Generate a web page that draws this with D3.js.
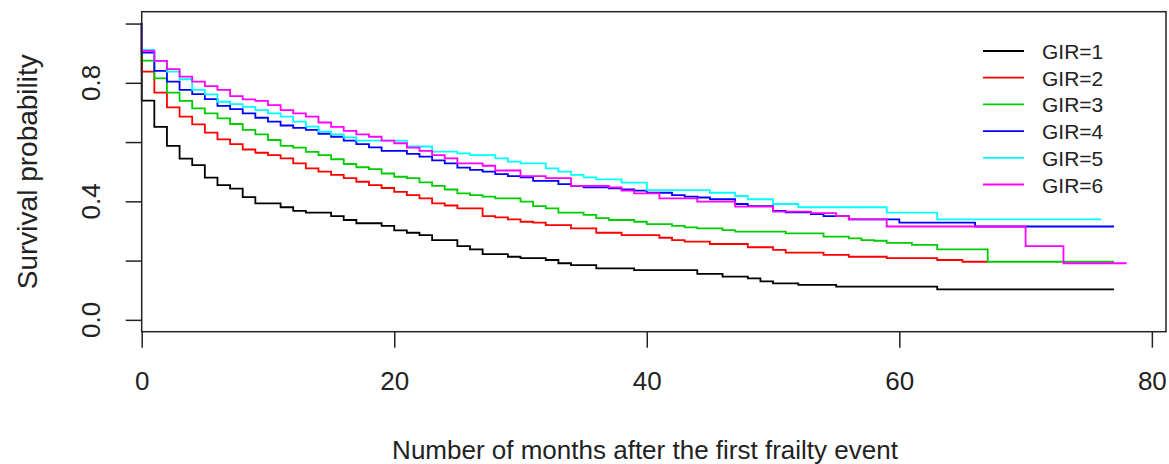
<!DOCTYPE html>
<html>
<head>
<meta charset="utf-8">
<script src="https://cdn.jsdelivr.net/npm/d3@7"></script>
<style>
  body { margin: 0; background: #fff; }
  svg { display: block; font-family: "Liberation Sans", Arial, sans-serif; }
</style>
</head>
<body>
<svg id="chart" width="1169" height="464"></svg>
<script>
// Kaplan-Meier steps per GIR group: [month, survival]
var gir1 = [[0,1],[0,0.740],[1,0.651],[2,0.587],[3,0.544],[4,0.522],[5,0.480],[6,0.455],[7,0.443],[8,0.414],[9,0.393],
  [11,0.380],[12,0.368],[13,0.362],[15,0.350],[16,0.337],[17,0.326],[19,0.317],[20,0.302],[21,0.294],[22,0.286],[23,0.269],
  [25,0.249],[26,0.238],[27,0.222],[29,0.213],[30,0.208],[32,0.202],[33,0.191],[34,0.185],[36,0.174],[39,0.168],[44,0.155],
  [46,0.146],[48,0.140],[49,0.130],[50,0.123],[52,0.118],[55,0.112],[63,0.103]];
var gir2 = [[0,1],[0,0.838],[1,0.767],[2,0.717],[3,0.686],[4,0.660],[5,0.632],[6,0.609],[7,0.593],[8,0.575],[9,0.564],
  [10,0.556],[11,0.545],[12,0.528],[13,0.511],[14,0.500],[15,0.489],[16,0.478],[17,0.466],[18,0.455],[19,0.445],[20,0.432],
  [21,0.421],[22,0.410],[23,0.393],[24,0.386],[25,0.376],[27,0.350],[28,0.346],[29,0.339],[30,0.331],[31,0.328],[32,0.320],
  [34,0.309],[36,0.294],[38,0.286],[41,0.277],[42,0.269],[43,0.264],[45,0.256],[48,0.245],[50,0.236],[51,0.227],[54,0.219],
  [56,0.213],[59,0.208],[63,0.202],[65,0.196]];
var gir3 = [[0,1],[0,0.875],[1,0.815],[2,0.767],[3,0.739],[4,0.714],[5,0.697],[6,0.680],[7,0.661],[8,0.641],[9,0.626],
  [10,0.607],[11,0.587],[12,0.581],[13,0.567],[14,0.556],[15,0.542],[16,0.526],[17,0.515],[18,0.509],[19,0.494],[20,0.483],
  [21,0.478],[22,0.464],[23,0.452],[24,0.440],[25,0.427],[26,0.421],[27,0.416],[28,0.410],[30,0.399],[31,0.384],[32,0.376],
  [33,0.362],[35,0.354],[36,0.343],[37,0.337],[39,0.331],[40,0.323],[42,0.317],[43,0.312],[44,0.309],[46,0.303],[47,0.298],
  [51,0.292],[54,0.281],[56,0.275],[57,0.269],[58,0.267],[59,0.260],[61,0.253],[63,0.238],[67,0.196]];
var gir4 = [[0,1],[0,0.902],[1,0.840],[2,0.804],[3,0.776],[4,0.762],[5,0.745],[6,0.722],[7,0.711],[8,0.697],[9,0.682],
  [10,0.669],[11,0.656],[12,0.648],[13,0.641],[14,0.628],[15,0.618],[16,0.605],[17,0.593],[18,0.582],[19,0.570],[21,0.560],
  [22,0.551],[23,0.538],[24,0.528],[25,0.514],[26,0.506],[27,0.500],[28,0.492],[29,0.485],[30,0.481],[31,0.469],[33,0.458],
  [34,0.452],[35,0.447],[37,0.444],[38,0.440],[39,0.436],[40,0.429],[42,0.421],[43,0.416],[44,0.413],[45,0.407],[47,0.391],
  [48,0.384],[50,0.368],[51,0.363],[53,0.357],[54,0.350],[56,0.339],[60,0.328],[66,0.315]];
var gir5 = [[0,1],[0,0.911],[1,0.874],[2,0.838],[3,0.812],[4,0.776],[5,0.761],[6,0.736],[7,0.728],[8,0.719],[9,0.708],
  [10,0.697],[11,0.686],[12,0.669],[13,0.652],[14,0.635],[15,0.626],[16,0.616],[17,0.605],[21,0.585],[23,0.568],
  [25,0.562],[26,0.556],[28,0.545],[29,0.534],[30,0.528],[32,0.511],[33,0.500],[34,0.489],
  [35,0.481],[36,0.474],[38,0.463],[40,0.438],[45,0.429],[47,0.418],[48,0.407],[50,0.391],[52,0.380],[59,0.362],[63,0.339]];
var gir6 = [[0,1],[0,0.908],[1,0.874],[2,0.846],[3,0.821],[4,0.804],[5,0.789],[6,0.776],[7,0.755],[8,0.744],[9,0.739],
  [10,0.725],[11,0.708],[12,0.697],[13,0.686],[14,0.666],[15,0.651],[16,0.638],[17,0.626],[18,0.618],[19,0.605],[20,0.596],
  [21,0.581],[22,0.570],[23,0.556],[24,0.545],[25,0.528],[27,0.520],[28,0.504],[30,0.485],[32,0.478],[34,0.452],[37,0.447],
  [38,0.436],[39,0.427],[41,0.410],[44,0.399],[47,0.382],[50,0.365],[53,0.360],[55,0.350],[56,0.339],[59,0.315],[70,0.249],
  [73,0.191]];

var groups = ["GIR=1", "GIR=2", "GIR=3", "GIR=4", "GIR=5", "GIR=6"];
var endTimes = [77, 67, 77, 77, 76, 78];
var colors = ["#000000", "#FF0000", "#00CD00", "#0000FF", "#00FFFF", "#FF00FF"];
var xTicks = [0, 20, 40, 60, 80];
var yTicks = [0, 0.2, 0.4, 0.6, 0.8, 1.0];
var yTickLabels = ["0.0", "", "0.4", "", "0.8", ""];

var curves = [gir1, gir2, gir3, gir4, gir5, gir6];

var plotLeft = 141.7, plotRight = 1166, plotTop = 11.7, plotBottom = 331.7;

var svg = d3.select("#chart");

var x = d3.scaleLinear()
	.domain([0, 78 * 1.04])
	.range([plotLeft, plotRight]);

var y = d3.scaleLinear()
	.domain([-0.04, 1.04])
	.range([plotBottom, plotTop]);

var line = d3.line()
	.x(function(d) { return x(d[0]); })
	.y(function(d) { return y(d[1]); })
	.curve(d3.curveStepAfter);

// curves, drawn in group order like R does
curves.forEach(function(c, i) {
	var pts = c.slice();
	pts.push([endTimes[i], c[c.length - 1][1]]);
	svg.append("path")
		.datum(pts)
		.attr("fill", "none")
		.attr("stroke", colors[i])
		.attr("stroke-width", 1.8)
		.attr("d", line);
});

// box
svg.append("rect")
	.attr("x", plotLeft)
	.attr("y", plotTop)
	.attr("width", plotRight - plotLeft)
	.attr("height", plotBottom - plotTop)
	.attr("fill", "none")
	.attr("stroke", "#222")
	.attr("stroke-width", 1.5);

// x axis
var gx = svg.append("g")
	.attr("transform", "translate(0," + plotBottom + ")")
	.call(d3.axisBottom(x).tickValues(xTicks).tickSize(16).tickPadding(24));
gx.select(".domain").remove();
gx.selectAll(".tick line").attr("stroke", "#222").attr("stroke-width", 1.5);
gx.selectAll(".tick text")
	.attr("fill", "#222")
	.style("font-size", "26px");

// y axis
var gy = svg.append("g")
	.attr("transform", "translate(" + plotLeft + ",0)")
	.call(d3.axisLeft(y).tickValues(yTicks).tickSize(16).tickFormat(""));
gy.select(".domain").remove();
gy.selectAll(".tick line").attr("stroke", "#222").attr("stroke-width", 1.5);

svg.append("g")
	.selectAll("text")
	.data(yTicks)
	.enter()
	.append("text")
	.attr("transform", function(d) { return "translate(100," + y(d) + ") rotate(-90)"; })
	.attr("text-anchor", "middle")
	.attr("fill", "#222")
	.style("font-size", "26px")
	.text(function(d, i) { return yTickLabels[i]; });

// axis titles
svg.append("text")
	.attr("x", 645)
	.attr("y", 459)
	.attr("text-anchor", "middle")
	.attr("fill", "#222")
	.style("font-size", "26px")
	.text("Number of months after the first frailty event");

svg.append("text")
	.attr("transform", "translate(37," + (plotTop + plotBottom) / 2 + ") rotate(-90)")
	.attr("text-anchor", "middle")
	.attr("fill", "#222")
	.style("font-size", "28px")
	.text("Survival probability");

// legend
var legend = svg.append("g");
groups.forEach(function(g, i) {
	var ly = 51 + i * 26.7;
	legend.append("line")
		.attr("x1", 983).attr("x2", 1024)
		.attr("y1", ly).attr("y2", ly)
		.attr("stroke", colors[i])
		.attr("stroke-width", 1.8);
	legend.append("text")
		.attr("x", 1042)
		.attr("y", ly + 8)
		.attr("fill", "#222")
		.style("font-size", "21px")
		.text(g);
});
</script>
</body>
</html>
